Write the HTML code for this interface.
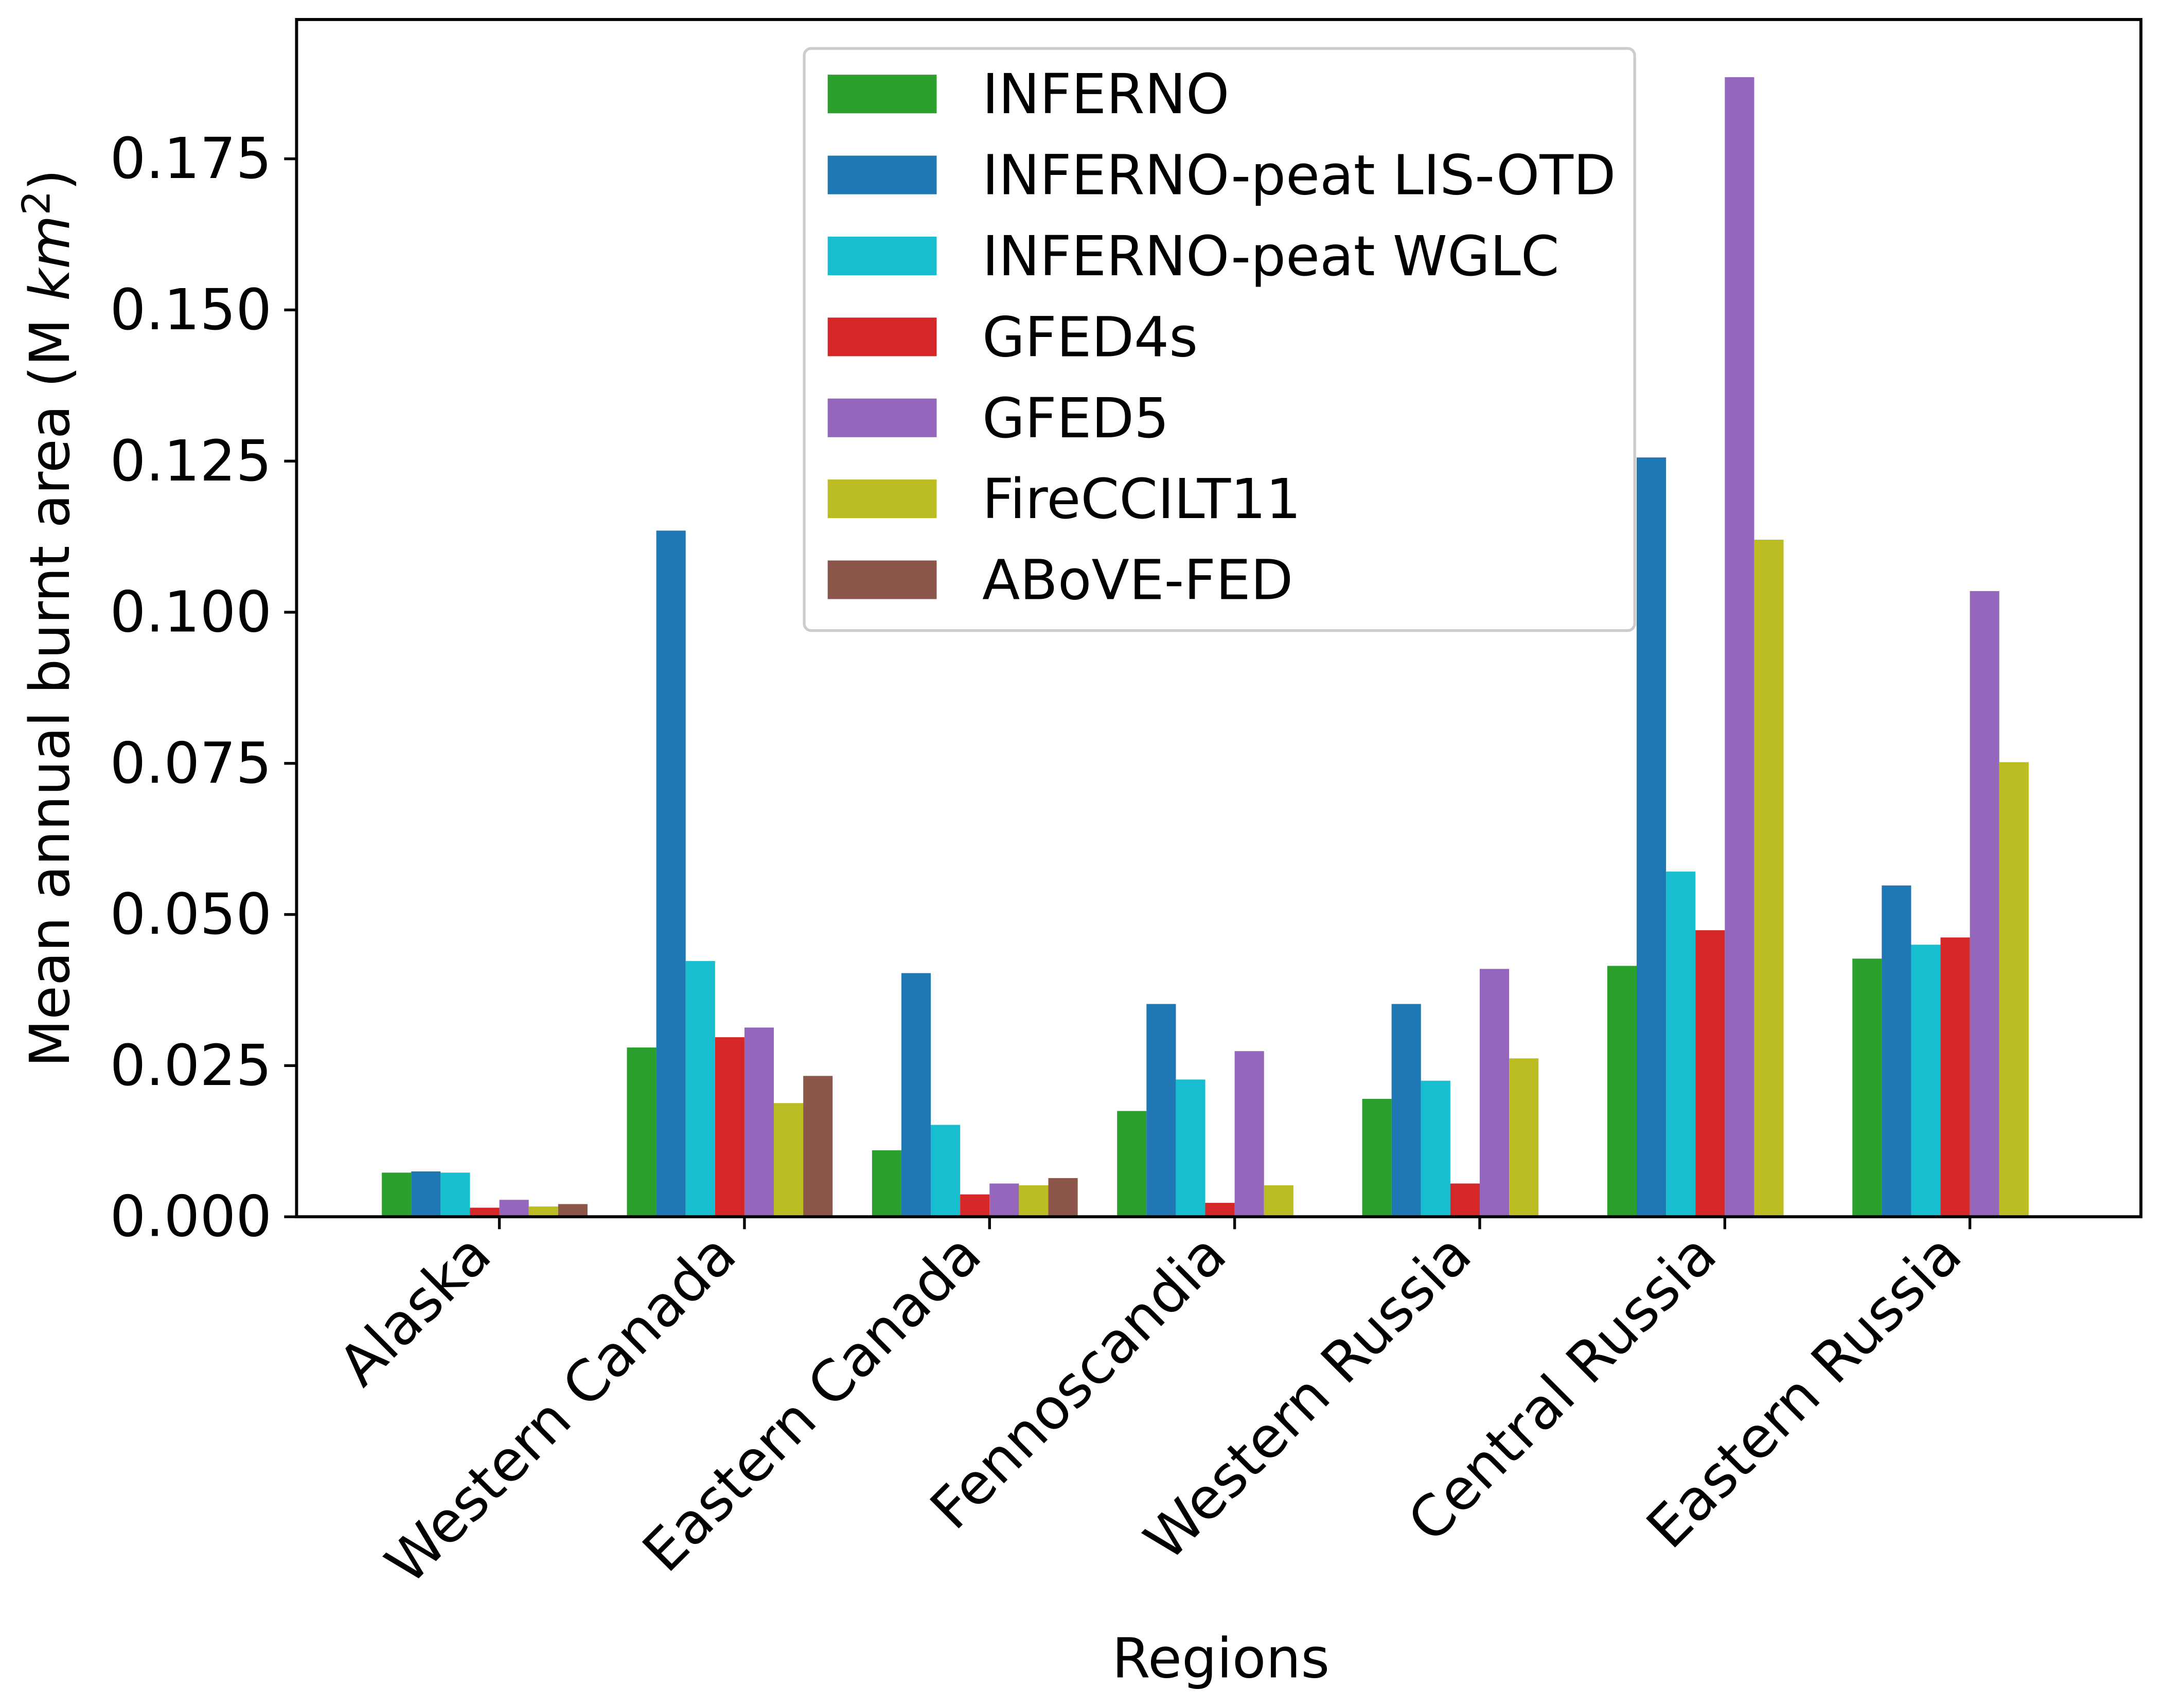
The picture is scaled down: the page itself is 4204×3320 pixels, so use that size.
<!DOCTYPE html>
<html><head><meta charset="utf-8"><style>html,body{margin:0;padding:0;background:#fff}svg{display:block}text{font-family:"DejaVu Sans","Liberation Sans",sans-serif;fill:#000}</style></head>
<body>
<svg id="chart" width="4204" height="3320" viewBox="0 0 1568 1238" xmlns="http://www.w3.org/2000/svg">
<rect width="1568" height="1238" fill="#fff"/>
<g id="bars"></g>
<g id="axes"></g>
<g id="legend"></g>
</svg>
<script>
const regions = ["Alaska","Western Canada","Eastern Canada","Fennoscandia","Western Russia","Central Russia","Eastern Russia"];
const seriesNames = ["INFERNO","INFERNO-peat LIS-OTD","INFERNO-peat WGLC","GFED4s","GFED5","FireCCILT11","ABoVE-FED"];
const seriesColors = ["#2ca02c","#1f77b4","#17becf","#d62728","#9467bd","#bcbd22","#8c564b"];
const inferno = [0.0073,0.0280,0.0110,0.0175,0.0195,0.0415,0.0427];
const infernoLis = [0.0075,0.1135,0.0403,0.0352,0.0352,0.1256,0.0548];
const infernoWglc = [0.0073,0.0423,0.0152,0.0227,0.0225,0.0571,0.0450];
const gfed4s = [0.0015,0.0297,0.0037,0.0023,0.0055,0.0474,0.0462];
const gfed5 = [0.0028,0.0313,0.0055,0.0274,0.0410,0.1885,0.1035];
const fireCci = [0.0017,0.0188,0.0052,0.0052,0.0262,0.1120,0.0752];
const aboveFed = [0.0021,0.0233,0.0064,null,null,null,null];
const yTicks = [0,0.025,0.05,0.075,0.1,0.125,0.15,0.175];
const yTickLabels = ["0.000","0.025","0.050","0.075","0.100","0.125","0.150","0.175"];
const series = [inferno,infernoLis,infernoWglc,gfed4s,gfed5,fireCci,aboveFed];

const NS="http://www.w3.org/2000/svg";
const L=215,R=1552,T=14,B=882;
const y=v=>B-v*(B-115)/0.175;
const x0=362, dx=177.67, bw=21.3;
const xc=i=>x0+i*dx;
function mk(tag,attrs,parent){const e=document.createElementNS(NS,tag);for(const k in attrs)e.setAttribute(k,attrs[k]);parent.appendChild(e);return e;}
const gb=document.getElementById('bars'), ga=document.getElementById('axes'), gl=document.getElementById('legend');
series.forEach((s,si)=>{s.forEach((v,ri)=>{if(v==null)return;
 const r=mk('rect',{x:xc(ri)-4*bw+si*bw,y:y(v),width:bw,height:B-y(v),fill:seriesColors[si]},gb);
 
 });});
const frame=mk('rect',{x:L,y:T,width:R-L,height:B-T,fill:'none',stroke:'#000','stroke-width':2.2},ga);


yTicks.forEach((v,i)=>{mk('line',{x1:L-9,x2:L,y1:y(v),y2:y(v),stroke:'#000','stroke-width':2},ga);
 const t=mk('text',{x:L-18,y:y(v)+14,'text-anchor':'end','font-size':41},ga);t.textContent=yTickLabels[i];
 
 });
regions.forEach((r,i)=>{mk('line',{x1:xc(i),x2:xc(i),y1:B,y2:B+9,stroke:'#000','stroke-width':2},ga);
 const ax=xc(i)-4, ay=B+30;
 const t=mk('text',{x:ax,y:ay,'text-anchor':'end','font-size':41,transform:`rotate(-45 ${ax} ${ay})`},ga);t.textContent=r;
 
 });
const xl=mk('text',{x:885,y:1216,'text-anchor':'middle','font-size':40},ga);xl.textContent='Regions';


const yl=mk('text',{x:50,y:448,'text-anchor':'middle','font-size':40,transform:'rotate(-90 50 448)'},ga);
yl.innerHTML='Mean annual burnt area (M <tspan font-style="italic">km</tspan><tspan font-size="28" dy="-14">2</tspan><tspan dy="14">)</tspan>';


const lb=mk('rect',{x:583,y:35,width:602,height:422,rx:5,fill:'#fff','fill-opacity':0.8,stroke:'#ccc','stroke-width':2},gl);


seriesNames.forEach((n,i)=>{const cy=68+i*58.7;
 const sw=mk('rect',{x:600,y:cy-14,width:79,height:28,fill:seriesColors[i]},gl);
 
 
 const t=mk('text',{x:712,y:cy+14,'font-size':40},gl);t.textContent=n;
 
 });
</script>
</body></html>
